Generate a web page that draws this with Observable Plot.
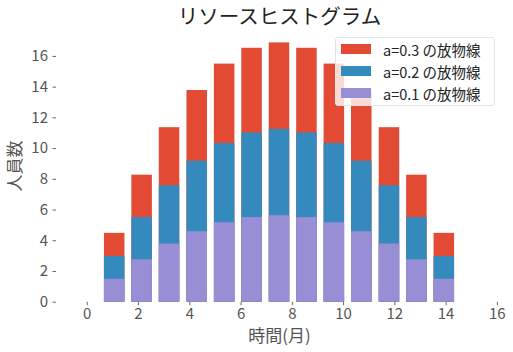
<!DOCTYPE html>
<html>
<head>
<meta charset="utf-8">
<script src="https://cdn.jsdelivr.net/npm/d3@7"></script>
<script src="https://cdn.jsdelivr.net/npm/@observablehq/plot@0.6"></script>
<style>
  html, body { margin: 0; padding: 0; background: #fff; }
  #wrap { position: relative; width: 513px; height: 352px; overflow: hidden; font-family: "Noto Sans CJK JP", "Noto Sans", sans-serif; }
  #legend { position: absolute; left: 335px; top: 37px; width: 160px; height: 69px; background: rgba(255,255,255,0.8); border: 1px solid #e4e4e4; border-radius: 3px; box-sizing: border-box; }
  .item { position: absolute; left: 5px; height: 21px; display: flex; align-items: center; font-size: 14.5px; color: #222; white-space: nowrap; }
  .sw { width: 30px; height: 10px; margin-right: 12px; }
</style>
</head>
<body>
<div id="wrap"></div>
<script>
const months = [1.07, 2.14, 3.21, 4.29, 5.36, 6.43, 7.50, 8.57, 9.64, 10.71, 11.79, 12.86, 13.93];
const a01 = [1.49, 2.76, 3.79, 4.59, 5.17, 5.51, 5.63, 5.51, 5.17, 4.59, 3.79, 2.76, 1.49];
const a02 = [2.98, 5.51, 7.58, 9.18, 10.33, 11.02, 11.25, 11.02, 10.33, 9.18, 7.58, 5.51, 2.98];
const a03 = [4.48, 8.27, 11.36, 13.78, 15.50, 16.53, 16.88, 16.53, 15.50, 13.78, 11.36, 8.27, 4.48];
const seriesNames = ["a=0.3 の放物線", "a=0.2 の放物線", "a=0.1 の放物線"];
const seriesColors = ["#E24A33", "#348ABD", "#988ED5"];
const xTicks = [0, 2, 4, 6, 8, 10, 12, 14, 16];
const yTicks = [0, 2, 4, 6, 8, 10, 12, 14, 16];
const title = "リソースヒストグラム";
const xLabel = "時間(月)";
const yLabel = "人員数";
const barW = 0.8;

const seriesValues = [a03, a02, a01];
const table = (vals) => months.map((m, i) => ({x1: m - barW / 2, x2: m + barW / 2, y: vals[i]}));

const font = "\"Noto Sans CJK JP\", \"Noto Sans\", sans-serif";
const chart = Plot.plot({
  width: 513,
  height: 352,
  marginLeft: 56,
  marginRight: 11,
  marginTop: 29.5,
  marginBottom: 50.3,
  style: {fontFamily: font, background: "#fff", color: "#555"},
  x: {domain: [-1.2, 16.2]},
  y: {domain: [0, 17.72]},
  marks: [
    ...seriesValues.map((vals, k) => Plot.rectY(table(vals), {x1: "x1", x2: "x2", y: "y", fill: seriesColors[k]})),
    Plot.axisX({ticks: xTicks, tickSize: 3.5, tickPadding: 2.5, fontSize: 15, stroke: "#666", fill: "#555", label: null}),
    Plot.axisY({ticks: yTicks, tickSize: 3.5, tickPadding: 5, fontSize: 15, stroke: "#666", fill: "#555", label: null}),
    Plot.text([title], {frameAnchor: "top", lineAnchor: "middle", dy: -12.5, fontSize: 20.5, fill: "#222"}),
    Plot.text([xLabel], {frameAnchor: "bottom", lineAnchor: "middle", dy: 34, fontSize: 17, fill: "#555"}),
    Plot.text([yLabel], {frameAnchor: "left", textAnchor: "middle", lineAnchor: "middle", dx: -41, rotate: -90, fontSize: 17, fill: "#555"})
  ]
});
const wrap = document.getElementById("wrap");
wrap.appendChild(chart);

const legend = document.createElement("div");
legend.id = "legend";
seriesNames.forEach((name, k) => {
  const it = document.createElement("div");
  it.className = "item";
  it.style.top = (0.5 + k * 22) + "px";
  const sw = document.createElement("div");
  sw.className = "sw";
  sw.style.background = seriesColors[k];
  const tx = document.createElement("span");
  tx.textContent = name;
  it.appendChild(sw);
  it.appendChild(tx);
  legend.appendChild(it);
});
wrap.appendChild(legend);
</script>
</body>
</html>
